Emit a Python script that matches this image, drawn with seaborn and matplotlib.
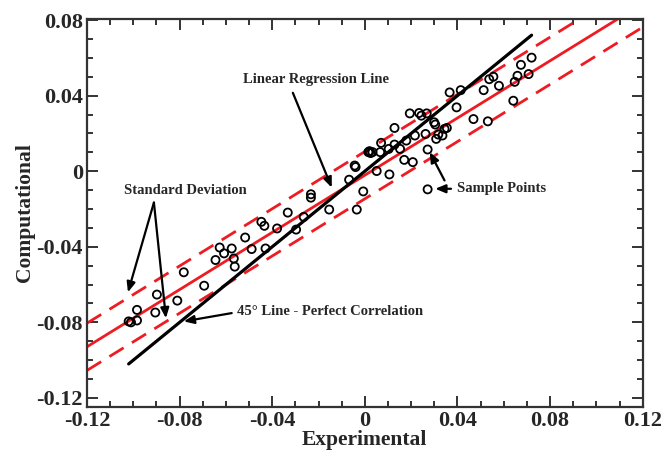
import matplotlib
matplotlib.use("Agg")
import matplotlib.pyplot as plt
import seaborn as sns
import numpy as np
import pandas as pd

# ---- data ----
experimental = [-0.102, -0.101, -0.0984, -0.0984, -0.0905, -0.0898, -0.081, -0.0782, -0.0694, -0.0645,
                -0.0627, -0.0608, -0.0575, -0.0566, -0.0562, -0.0517, -0.0489, -0.0447, -0.0434, -0.0429,
                -0.0379, -0.0333, -0.0297, -0.0264, -0.0233, -0.0233, -0.0154, -0.0068, -0.0044, -0.0040,
                -0.0035, -0.0007, 0.0015, 0.0025, 0.0033, 0.0020, 0.0051, 0.0066, 0.0070, 0.0103,
                0.0106, 0.0128, 0.0128, 0.0152, 0.0170, 0.0179, 0.0194, 0.0207, 0.0216, 0.0234,
                0.0244, 0.0262, 0.0267, 0.0271, 0.0271, 0.0299, 0.0304, 0.0308, 0.0317, 0.0335,
                0.0344, 0.0354, 0.0366, 0.0396, 0.0414, 0.0469, 0.0513, 0.0531, 0.0537, 0.0555,
                0.0579, 0.0641, 0.0647, 0.0659, 0.0674, 0.0707, 0.0720]
computational = [-0.0795, -0.0800, -0.0734, -0.0790, -0.0748, -0.0653, -0.0685, -0.0535, -0.0606, -0.0470,
                 -0.0404, -0.0435, -0.0409, -0.0462, -0.0505, -0.0351, -0.0412, -0.0268, -0.0289, -0.0409,
                 -0.0303, -0.0219, -0.0309, -0.0242, -0.0122, -0.0140, -0.0203, -0.0045, 0.0030, 0.0022,
                 -0.0203, -0.0107, 0.0101, 0.0096, 0.0101, 0.0106, 0.0001, 0.0101, 0.0150, 0.0118,
                 -0.0017, 0.0229, 0.0141, 0.0118, 0.0060, 0.0162, 0.0306, 0.0048, 0.0189, 0.0308,
                 0.0294, 0.0197, 0.0306, 0.0115, -0.0096, 0.0259, 0.0247, 0.0171, 0.0194, 0.0189,
                 0.0224, 0.0229, 0.0417, 0.0338, 0.0429, 0.0276, 0.0429, 0.0264, 0.0487, 0.0500,
                 0.0452, 0.0373, 0.0473, 0.0505, 0.0563, 0.0514, 0.0601]

reg_slope = 0.757
reg_intercept = -0.0021
std_dev = 0.0125
perfect_x = [-0.102, 0.072]

x_ticks = [-0.12, -0.08, -0.04, 0, 0.04, 0.08, 0.12]
x_tick_labels = ["-0.12", "-0.08", "-0.04", "0", "0.04", "0.08", "0.12"]
y_ticks = [-0.12, -0.08, -0.04, 0, 0.04, 0.08]
y_tick_labels = ["-0.12", "-0.08", "-0.04", "0", "0.04", "0.08"]

# ---- style ----
sns.set_style("ticks")
plt.rcParams['font.family'] = ['Liberation Serif', 'DejaVu Serif']
plt.rcParams['font.weight'] = 'bold'

fig = plt.figure(figsize=(6.64, 4.55), dpi=100)
ax = fig.add_axes([0.131, 0.1055, 0.837, 0.8525])

xlim = (-0.12, 0.12)
ylim = (-0.1248, 0.0805)

# regression + std dev lines across full x range
line_x = np.array(xlim)
reg_df = pd.DataFrame({"x": line_x, "y": reg_slope * line_x + reg_intercept})
up_df = pd.DataFrame({"x": line_x, "y": reg_slope * line_x + reg_intercept + std_dev})
lo_df = pd.DataFrame({"x": line_x, "y": reg_slope * line_x + reg_intercept - std_dev})
perf_df = pd.DataFrame({"x": perfect_x, "y": perfect_x})

red = "#ee1c22"
sns.lineplot(data=reg_df, x="x", y="y", color=red, lw=2.0, ax=ax)
sns.lineplot(data=up_df, x="x", y="y", color=red, lw=2.0, ax=ax, dashes=False)
sns.lineplot(data=lo_df, x="x", y="y", color=red, lw=2.0, ax=ax, dashes=False)
ax.lines[1].set_dashes([6, 3.5])
ax.lines[2].set_dashes([6, 3.5])
sns.lineplot(data=perf_df, x="x", y="y", color="black", lw=2.3, ax=ax)

pts = pd.DataFrame({"Experimental": experimental, "Computational": computational})
sns.scatterplot(data=pts, x="Experimental", y="Computational", marker="o",
                s=34, facecolor="none", edgecolor="black", linewidth=1.3, ax=ax, zorder=5)

ax.set_xlim(*xlim)
ax.set_ylim(*ylim)
ax.set_xticks(x_ticks)
ax.set_xticklabels(x_tick_labels)
ax.set_yticks(y_ticks)
ax.set_yticklabels(y_tick_labels)
ax.set_xticks(np.arange(-0.12, 0.1201, 0.01), minor=True)
ax.set_yticks(np.arange(-0.12, 0.0801, 0.01), minor=True)
ax.tick_params(which="both", direction="in", top=True, right=True, color="#333333", width=1.4)
ax.tick_params(which="major", length=8, labelsize=16, pad=3)
ax.tick_params(which="minor", length=4.5)
for lab in ax.get_xticklabels() + ax.get_yticklabels():
    lab.set_fontweight("bold")
for s in ax.spines.values():
    s.set_linewidth(1.6)
    s.set_color("#333333")

ax.set_xlabel("Experimental", fontsize=15.5, fontweight="bold", labelpad=-1)
ax.set_ylabel("Computational", fontsize=15.5, fontweight="bold", labelpad=1)

afs = 10.5
arrow = dict(arrowstyle="-|>,head_length=0.6,head_width=0.25", color="black", lw=1.6, shrinkA=0, shrinkB=0)
ax.text(-0.0212, 0.0483, "Linear Regression Line", fontsize=afs, fontweight="bold", ha="center", va="center")
ax.annotate("", xy=(-0.0143, -0.0087), xytext=(-0.0311, 0.0415), arrowprops=arrow)

ax.text(-0.0777, -0.0102, "Standard Deviation", fontsize=afs, fontweight="bold", ha="center", va="center")
ax.annotate("", xy=(-0.1023, -0.0641), xytext=(-0.0911, -0.0166), arrowprops=arrow)
ax.annotate("", xy=(-0.0859, -0.0778), xytext=(-0.0911, -0.0166), arrowprops=arrow)

ax.text(0.0397, -0.0092, "Sample Points", fontsize=afs, fontweight="bold", ha="left", va="center")
ax.annotate("", xy=(0.0304, -0.0093), xytext=(0.0372, -0.0093), arrowprops=arrow)
ax.annotate("", xy=(0.0280, 0.0101), xytext=(0.0344, -0.0049), arrowprops=arrow)

ax.text(-0.0553, -0.0743, "45° Line - Perfect Correlation", fontsize=afs, fontweight="bold", ha="left", va="center")
ax.annotate("", xy=(-0.0782, -0.0795), xytext=(-0.0575, -0.0751), arrowprops=arrow)

fig.savefig("out.png", dpi=100)
